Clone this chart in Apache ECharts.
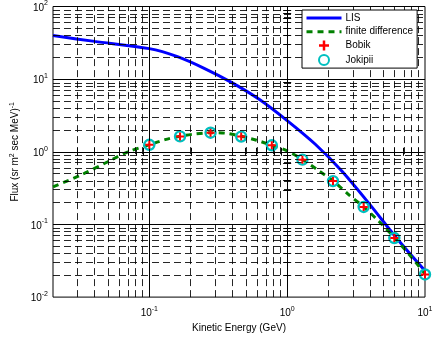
<!DOCTYPE html>
<html>
<head>
<meta charset="utf-8">
<script src="https://cdn.jsdelivr.net/npm/echarts@6/dist/echarts.min.js"></script>
<style>
html, body { margin: 0; padding: 0; background: #fff; }
#chart { width: 436px; height: 338px; }
</style>
</head>
<body>
<div id="chart"></div>
<script>
// local interstellar spectrum
var lisEnergy = [0.02, 0.04, 0.1, 0.16, 0.25, 0.4, 0.63, 1, 1.6, 2.5, 4, 6.3, 10];
var lisFlux = [39.8, 33.1, 26.3, 20.4, 14.1, 8.9, 5.25, 2.69, 1.27, 0.54, 0.186, 0.063, 0.023];

// finite difference solution
var fdEnergy = [0.02, 0.032, 0.05, 0.07, 0.1, 0.13, 0.167, 0.215, 0.278, 0.36, 0.464, 0.6, 0.774,
    1, 1.29, 1.67, 2.15, 2.78, 3.59, 4.64, 5.99, 7.74, 10];
var fdFlux = [0.33, 0.48, 0.73, 1.0, 1.25, 1.47, 1.64, 1.76, 1.83, 1.8, 1.64, 1.44, 1.23,
    1.03, 0.785, 0.56, 0.4, 0.26, 0.174, 0.11, 0.066, 0.038, 0.021];

// stochastic runs
var markEnergy = [0.1, 0.167, 0.278, 0.464, 0.774, 1.29, 2.15, 3.59, 5.99, 10];
var bobikFlux = [1.25, 1.63, 1.83, 1.62, 1.23, 0.78, 0.395, 0.174, 0.065, 0.0205];
var jokipiiFlux = [1.25, 1.63, 1.83, 1.62, 1.23, 0.78, 0.395, 0.174, 0.065, 0.0205];

var xRange = [0.02, 10];
var yRange = [0.01, 100];
var xDecades = [0.01, 0.1, 1];
var yDecades = [0.01, 0.1, 1, 10];
var xLabelExp = [-1, 0, 1];
var yLabelExp = [-2, -1, 0, 1, 2];
var minorSteps = [2, 3, 4, 5, 6, 7, 8, 9];

var FONT = '"Liberation Sans", Arial, Helvetica, sans-serif';

function lg(v) { return Math.log10(v); }

function pairs(xs, ys) {
    return xs.map(function (x, i) { return [lg(x), lg(ys[i])]; });
}

// major / minor grid values (log10) inside a range
function gridValues(decades, range) {
    var major = [], minor = [];
    decades.forEach(function (d) {
        if (d > range[0] * 1.0001 && d < range[1] * 0.9999) major.push(lg(d));
        minorSteps.forEach(function (k) {
            var v = k * d;
            if (v > range[0] * 1.0001 && v < range[1] * 0.9999) minor.push(lg(v));
        });
    });
    return { major: major, minor: minor, all: major.concat(minor) };
}

var xGrid = gridValues(xDecades, xRange);
var yGrid = gridValues(yDecades, yRange);

// "10" with a raised exponent
var supRich = {
    b: { fontSize: 10, lineHeight: 13, verticalAlign: 'bottom', fontFamily: FONT, color: '#000' },
    e: { fontSize: 7, lineHeight: 13, verticalAlign: 'top', fontFamily: FONT, color: '#000' }
};
function powLabel(v) {
    return '{b|10}{e|' + Math.round(v) + '}';
}

var minorStyle = { color: '#000', width: 1, type: [7, 4], opacity: 0.85 };
var majorStyle = { color: '#000', width: 1, type: 'solid' };

var gridLines = [];
xGrid.minor.forEach(function (v) { gridLines.push({ xAxis: v, lineStyle: minorStyle }); });
yGrid.minor.forEach(function (v) { gridLines.push({ yAxis: v, lineStyle: minorStyle }); });
xGrid.major.forEach(function (v) { gridLines.push({ xAxis: v, lineStyle: majorStyle }); });
yGrid.major.forEach(function (v) { gridLines.push({ yAxis: v, lineStyle: majorStyle }); });

var plusPath = 'path://M3,0h2v3h3v2h-3v3h-2v-3h-3v-2h3z';

var xBase = {
    type: 'value', min: lg(xRange[0]), max: lg(xRange[1]),
    axisLine: { show: false },
    splitLine: { show: false },
    axisTick: { inside: true, length: 4, customValues: xGrid.all, lineStyle: { color: '#000' } }
};
var yBase = {
    type: 'value', min: lg(yRange[0]), max: lg(yRange[1]),
    axisLine: { show: false },
    splitLine: { show: false },
    axisTick: { inside: true, length: 4, customValues: yGrid.all, lineStyle: { color: '#000' } }
};

var noMarker = { opacity: 0 };

var chart = echarts.init(document.getElementById('chart'));
chart.setOption({
    animation: false,
    backgroundColor: '#fff',
    textStyle: { fontFamily: FONT },
    grid: {
        left: 53, right: 11, top: 5, bottom: 40,
        show: true, borderColor: '#000', borderWidth: 1, backgroundColor: '#fff'
    },
    legend: {
        z: 50,
        data: [
            { name: 'LIS', itemStyle: noMarker },
            { name: 'finite difference', itemStyle: noMarker },
            { name: 'Bobik' },
            { name: 'Jokipii' }
        ],
        orient: 'vertical',
        left: 302, top: 10,
        padding: [3, 4, 2, 3],
        itemWidth: 35, itemHeight: 10, itemGap: 3.7,
        lineStyle: { width: 3 },
        backgroundColor: '#fff', borderColor: '#000', borderWidth: 1, borderRadius: 0,
        textStyle: { fontSize: 10, color: '#000', fontFamily: FONT, padding: [0, 0, 0, -1] }
    },
    xAxis: [
        Object.assign({}, xBase, {
            position: 'bottom',
            name: 'Kinetic Energy (GeV)', nameLocation: 'middle', nameGap: 24,
            nameTextStyle: { fontSize: 10, color: '#000', fontFamily: FONT },
            axisLabel: { customValues: xLabelExp, margin: 8, formatter: powLabel, rich: supRich }
        }),
        Object.assign({}, xBase, { position: 'top', axisLabel: { show: false } })
    ],
    yAxis: [
        Object.assign({}, yBase, {
            position: 'left',
            name: 'Flux (sr m{e|2} sec MeV){e|-1}', nameLocation: 'middle', nameGap: 21, nameRotate: 90,
            nameTextStyle: { fontSize: 10, color: '#000', fontFamily: FONT, rich: supRich },
            axisLabel: { customValues: yLabelExp, margin: 5, formatter: powLabel, rich: supRich }
        }),
        Object.assign({}, yBase, { position: 'right', axisLabel: { show: false } })
    ],
    series: [
        {
            name: 'grid', type: 'line', data: [], silent: true, z: 1,
            markLine: {
                silent: true, symbol: ['none', 'none'], label: { show: false },
                emphasis: { disabled: true }, animation: false,
                data: gridLines
            }
        },
        {
            name: 'LIS', type: 'line', symbol: 'none', smooth: 0.3, z: 3,
            lineStyle: { color: '#0000ff', width: 3 },
            itemStyle: { color: '#0000ff' },
            data: pairs(lisEnergy, lisFlux)
        },
        {
            name: 'finite difference', type: 'line', symbol: 'none', smooth: 0.3, z: 3,
            lineStyle: { color: '#008000', width: 3, type: [6, 5] },
            itemStyle: { color: '#008000' },
            data: pairs(fdEnergy, fdFlux)
        },
        {
            name: 'Bobik', type: 'scatter', symbol: plusPath, symbolSize: 8, z: 5,
            itemStyle: { color: '#ff0000', opacity: 1 },
            data: pairs(markEnergy, bobikFlux)
        },
        {
            name: 'Jokipii', type: 'scatter', symbol: 'circle', symbolSize: 10, z: 4,
            itemStyle: { color: 'rgba(255,255,255,0)', borderColor: '#00bfbf', borderWidth: 2.4, opacity: 1 },
            data: pairs(markEnergy, jokipiiFlux)
        }
    ]
});
</script>
</body>
</html>
